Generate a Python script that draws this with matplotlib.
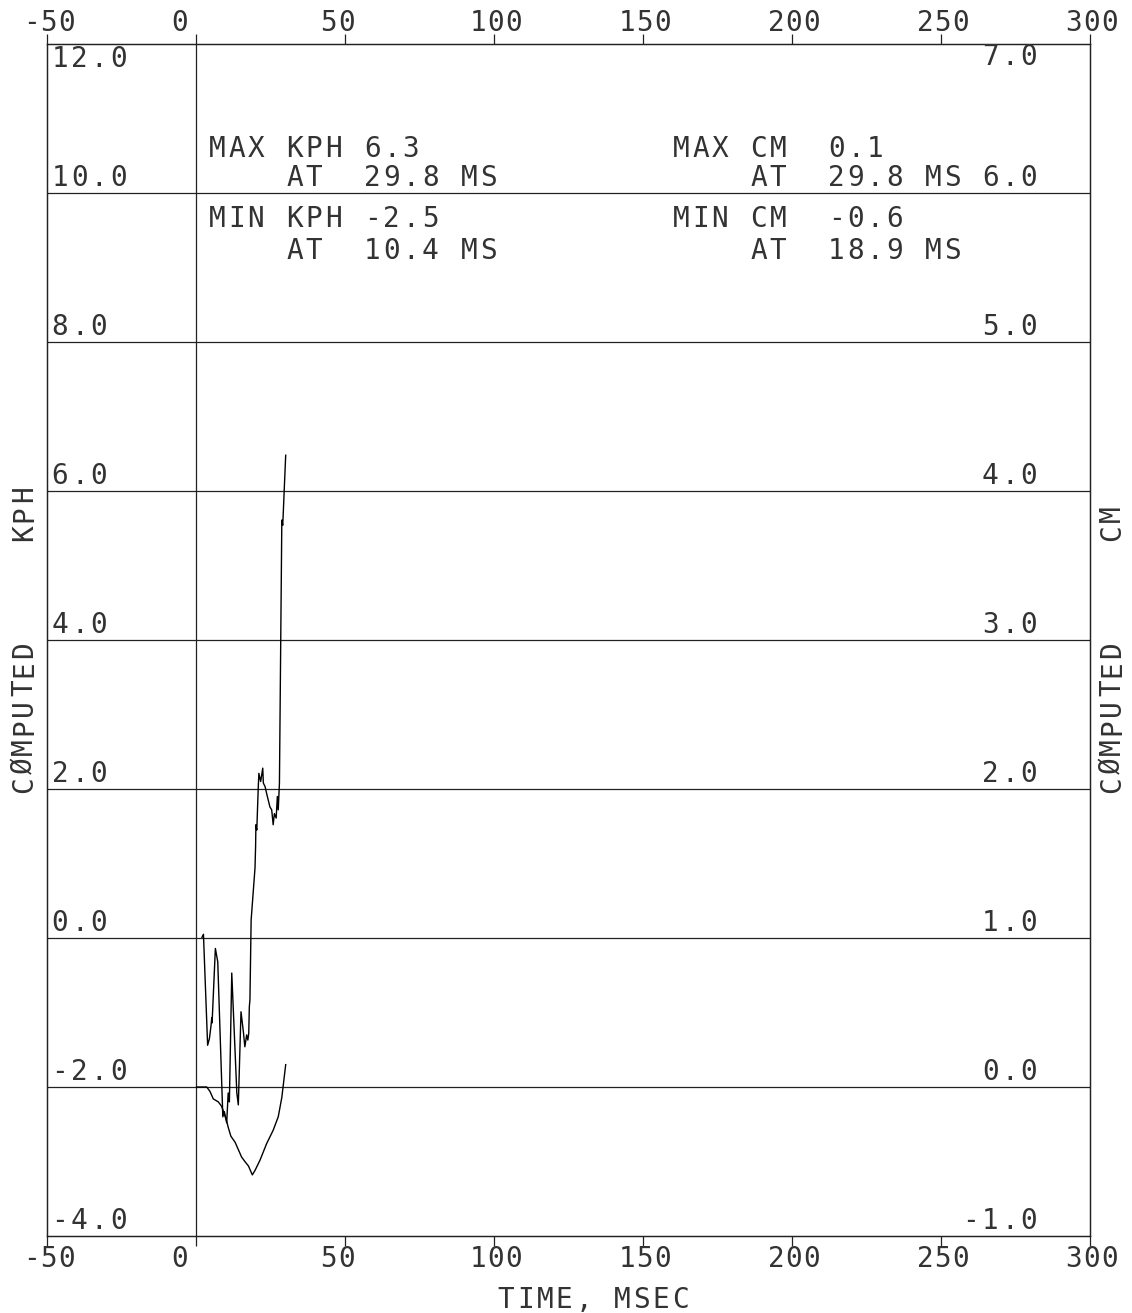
import numpy as np
import matplotlib
matplotlib.use("Agg")
import matplotlib.pyplot as plt
import matplotlib.transforms as mtransforms

# values
time_kph = [2.0, 2.5, 3.9, 4.5, 5.0, 5.3, 5.4, 6.5, 7.3, 9.0, 9.5, 10.3,
            10.8, 11.2, 12.0, 13.7, 14.2, 15.1, 15.9, 16.4, 17.0, 17.4,
            17.7, 17.9, 18.1, 18.5, 19.8, 20.0, 20.1, 20.4, 20.9, 21.1,
            21.7, 22.4, 22.6, 23.2, 23.7, 24.8, 25.4, 25.9, 26.3, 26.9,
            27.3, 27.6, 28.0, 28.8, 29.1, 29.3, 29.6, 30.1]
kph = [0.01, 0.05, -1.44, -1.35, -1.19, -1.07, -1.14, -0.14, -0.32, -2.40,
       -2.33, -2.48, -2.08, -2.20, -0.47, -2.08, -2.24, -0.99, -1.26, -1.46,
       -1.30, -1.37, -1.28, -0.92, -0.83, 0.24, 0.94, 1.23, 1.52, 1.45,
       2.03, 2.21, 2.10, 2.28, 2.08, 2.03, 1.94, 1.76, 1.72, 1.52,
       1.67, 1.61, 1.90, 1.72, 2.08, 5.61, 5.54, 5.72, 6.01, 6.48]

time_cm = [0.2, 3.6, 4.7, 5.8, 7.5, 8.6, 9.5, 10.3, 10.8, 11.7, 13.1, 14.2,
           15.3, 16.4, 17.6, 18.9, 19.8, 21.5, 23.7, 25.9, 27.6, 28.8, 30.1]
cm = [0.0, 0.0, -0.03, -0.08, -0.10, -0.13, -0.18, -0.23, -0.27, -0.33,
      -0.37, -0.42, -0.47, -0.50, -0.53, -0.59, -0.56, -0.49, -0.38, -0.29,
      -0.20, -0.07, 0.15]

x_ticks = [-50, 0, 50, 100, 150, 200, 250, 300]
kph_ticks = [-4.0, -2.0, 0.0, 2.0, 4.0, 6.0, 8.0, 10.0, 12.0]
cm_ticks = [-1.0, 0.0, 1.0, 2.0, 3.0, 4.0, 5.0, 6.0, 7.0]

notes_left = ["MAX KPH 6.3", "    AT  29.8 MS", "MIN KPH -2.5", "    AT  10.4 MS"]
notes_right = ["MAX CM  0.1", "    AT  29.8 MS", "MIN CM  -0.6", "    AT  18.9 MS"]

W, H = 1132, 1313
FONT = "DejaVu Sans Mono"
FS = 20
PITCH = 19.4
INK = "#333333"

fig = plt.figure(figsize=(W / 100, H / 100), dpi=100)
ax = fig.add_axes([47 / W, 1 - 1236 / H, 1043 / W, 1192 / H])
ax2 = ax.twinx()

ax.set_xlim(-50, 300)
ax.set_ylim(-4, 12)
ax2.set_ylim(-1, 7)

for v in kph_ticks[1:-1]:
    ax.axhline(v, color="#222222", lw=0.9)
ax.axvline(0, color="#222222", lw=0.9)

ax.plot(time_kph, kph, color="k", lw=1.0)
ax2.plot(time_cm, cm, color="k", lw=1.0)

ax.set_xticks(x_ticks)
ax.tick_params(axis="x", direction="out", length=7, width=0.9, color="#222222",
               top=True, bottom=True, labelbottom=False, labeltop=False)
ax.set_yticks([])
ax2.set_yticks([])
for a in (ax, ax2):
    for sp in a.spines.values():
        sp.set_linewidth(0.9)
        sp.set_color("#222222")

# pixel coords measured from the top-left corner of the figure
px = mtransforms.Affine2D().scale(1 / W, -1 / H).translate(0, 1) + fig.transFigure


def put(x, y, s, tr, dx=0, dy=0, rot=0, right=False, step=PITCH):
    # plotter style text: one fixed-width cell per character
    shift = -(len(s) - 1) if right else 0
    for i, ch in enumerate(s):
        if ch == " ":
            continue
        k = (i + shift) * step
        ox, oy = (dx + k, dy) if rot == 0 else (dx, dy + k)
        t = mtransforms.offset_copy(tr, fig=fig, x=ox, y=oy, units="dots")
        fig.text(x, y, ch, transform=t, rotation=rot, rotation_mode="anchor",
                 ha="center", va="baseline", family=FONT, fontsize=FS,
                 color=INK)


# x tick labels, top and bottom
top_tr = mtransforms.blended_transform_factory(ax.transData, ax.transAxes)
for v in x_ticks:
    lab = str(v)
    put(v, 1, lab, top_tr, dx=-16, dy=13, step=18)
    put(v, 0, lab, top_tr, dx=-16, dy=-31, step=18)

# left (KPH) labels inside the frame
left_tr = mtransforms.blended_transform_factory(ax.transAxes, ax.transData)
for v in kph_ticks:
    dy = -23 if v == kph_ticks[-1] else 7
    put(0, v, "%.1f" % v, left_tr, dx=13, dy=dy)

# right (CM) labels inside the frame
right_tr = mtransforms.blended_transform_factory(ax2.transAxes, ax2.transData)
for v in cm_ticks:
    dy = -21 if v == cm_ticks[-1] else 7
    put(1, v, "%.1f" % v, right_tr, dx=-61, dy=dy, right=True)

# peak annotations
rows = [157, 186, 227, 259]
for s, y in zip(notes_left, rows):
    put(217, y, s, px)
for s, y in zip(notes_right, rows):
    put(681, y, s, px)

# axis titles
put(506, 1308, "TIME, MSEC", px)
put(32, 785, "CØMPUTED     KPH", px, rot=90)
put(1120, 785, "CØMPUTED     CM", px, rot=90)

fig.savefig("out.png", dpi=100)
